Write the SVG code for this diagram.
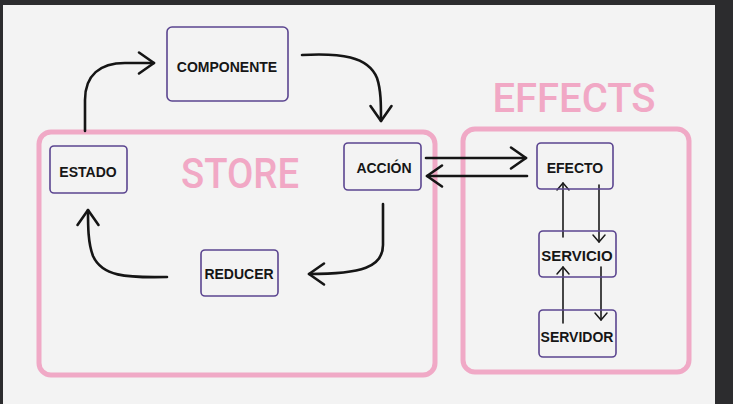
<svg xmlns="http://www.w3.org/2000/svg" width="733" height="415" viewBox="0 0 733 415">
<style>
.node rect{fill:none;stroke:#5b4590;stroke-width:1.6}
.node text{font-family:"Liberation Sans",Arial,sans-serif;font-weight:bold;font-size:14px;fill:#161616;text-anchor:middle}
.zone{fill:none;stroke:#f0a9c6;stroke-width:5}
.title{font-family:Roboto,"Liberation Sans",Arial,sans-serif;font-weight:500;fill:#f1a8c5;text-anchor:middle}
.big{fill:none;stroke:#151515;stroke-width:2.6;stroke-linecap:round;stroke-linejoin:round}
.thin{fill:none;stroke:#1a1a1a;stroke-width:1.6;stroke-linecap:round}
</style>
<defs>
<marker id="chev" viewBox="0 0 24 28" refX="20" refY="14" markerWidth="24" markerHeight="28" markerUnits="userSpaceOnUse" orient="auto">
<path d="M5,3.5 L20,14 L5,24.5" fill="none" stroke="#151515" stroke-width="2.6" stroke-linecap="round" stroke-linejoin="round"/>
</marker>
<marker id="chevs" viewBox="0 0 12 16" refX="10" refY="8" markerWidth="12" markerHeight="16" markerUnits="userSpaceOnUse" orient="auto">
<path d="M3,2 L10,8 L3,14" fill="none" stroke="#1a1a1a" stroke-width="1.5" stroke-linecap="round" stroke-linejoin="round"/>
</marker>
</defs>
<rect x="0" y="0" width="733" height="415" fill="#ffffff"/>
<rect x="0" y="0" width="733" height="404" fill="#2c2c2e"/>
<rect x="3" y="5" width="712" height="399" fill="#f3f3f3"/>

<g id="zones">
<rect class="zone" x="39" y="132" width="396" height="243" rx="12"/>
<rect class="zone" x="463" y="129" width="226" height="243" rx="12"/>
<text class="title" x="240" y="188" font-size="43" textLength="118" lengthAdjust="spacingAndGlyphs">STORE</text>
<text class="title" x="574" y="112" font-size="40" textLength="163" lengthAdjust="spacingAndGlyphs">EFFECTS</text>
</g>

<g id="connectors">
<path class="big" d="M85,131 L85,100 C85,75 100,63 125,63 L154,63" marker-end="url(#chev)"/>
<path class="big" d="M302,55 C340,53 368,56 377,78 C381,90 381,104 381,121" marker-end="url(#chev)"/>
<path class="big" d="M383,204 L383,245 C383,267 362,274 309,274" marker-end="url(#chev)"/>
<path class="big" d="M167,277 C125,278 102,276 93,256 C88,243 88,226 88,210" marker-end="url(#chev)"/>
<path class="big" d="M426,158 L526,158" marker-end="url(#chev)"/>
<path class="big" d="M527,176 L427,176" marker-end="url(#chev)"/>
<path class="thin" d="M563,237 L563,183" marker-end="url(#chevs)"/>
<path class="thin" d="M599,185 L599,242" marker-end="url(#chevs)"/>
<path class="thin" d="M563,323 L563,267" marker-end="url(#chevs)"/>
<path class="thin" d="M601,267 L601,320" marker-end="url(#chevs)"/>
</g>

<g id="componente" class="node"><rect x="167" y="27" width="121" height="74" rx="5"/><text x="227" y="72">COMPONENTE</text></g>
<g id="estado" class="node"><rect x="50" y="146" width="77" height="47" rx="4"/><text x="88" y="177">ESTADO</text></g>
<g id="accion" class="node"><rect x="344" y="143" width="77" height="47" rx="4"/><text x="384" y="173">ACCIÓN</text></g>
<g id="reducer" class="node"><rect x="201" y="250" width="77" height="46" rx="4"/><text x="239" y="279">REDUCER</text></g>
<g id="efecto" class="node"><rect x="537" y="143" width="76" height="46" rx="4"/><text x="575" y="173">EFECTO</text></g>
<g id="servicio" class="node"><rect x="539" y="231" width="77" height="46" rx="4"/><text x="577" y="261" style="font-size:15px">SERVICIO</text></g>
<g id="servidor" class="node"><rect x="539" y="310" width="77" height="47" rx="4"/><text x="577" y="342">SERVIDOR</text></g>
</svg>
